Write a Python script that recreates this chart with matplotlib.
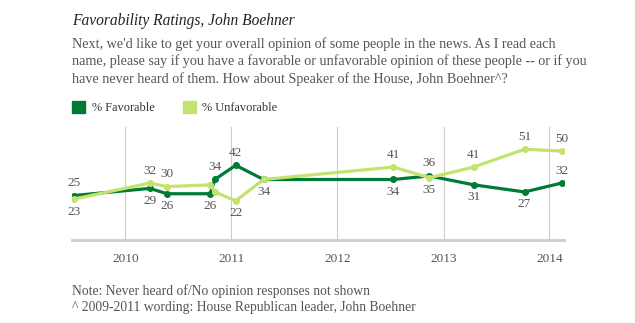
import matplotlib
matplotlib.use("Agg")
import matplotlib.pyplot as plt
import pandas as pd

# survey dates and results (%)
dates = ["2009-07-08", "2010-03-26", "2010-05-24", "2010-10-20", "2010-11-05",
         "2011-01-16", "2011-04-22", "2012-07-12", "2012-11-13", "2013-04-15",
         "2013-10-07", "2014-02-12"]
favorable = [25, 29, 26, 26, 34, 42, 34, 34, 36, 31, 27, 32]
unfavorable = [23, 32, 30, 31, 27, 22, 34, 41, 35, 41, 51, 50]
years = ["2010", "2011", "2012", "2013", "2014"]

# where each value label goes: 1 above, -1 below, 0 none
fav_pos = [1, -1, -1, -1, 1, 1, -1, -1, 1, -1, -1, 1]
unf_pos = [-1, 1, 1, 0, 0, -1, 0, 1, -1, 1, 1, 1]

DARK = "#007a37"
LIGHT = "#c4e36e"
GREY = "#555555"
SERIF = "Liberation Serif"

x = pd.to_datetime(dates)

fig = plt.figure(figsize=(6.35, 3.23), dpi=100)
ax = fig.add_axes([72 / 635, 1 - 240 / 323, 492 / 635, 113 / 323])

ax.plot(x, favorable, color=DARK, lw=2.3, marker="o", ms=4, zorder=3)
ax.plot(x, unfavorable, color=LIGHT, lw=2.3, marker="o", ms=4, zorder=4)

for series, pos in [(favorable, fav_pos), (unfavorable, unf_pos)]:
    for xi, v, p in zip(x, series, pos):
        if p:
            ax.annotate(str(v), (xi, v), xytext=(0, 9 * p), textcoords="offset points",
                        ha="center", va="center", fontsize=9.5, color=GREY, family=SERIF)

ax.set_xlim(pd.Timestamp("2009-07-01"), pd.Timestamp("2014-02-20"))
ax.set_ylim(0, 63.5)
ax.set_xticks(pd.to_datetime([y + "-01-01" for y in years]))
ax.set_xticklabels(years, family=SERIF, fontsize=9.5, color=GREY)
ax.set_yticks([])
ax.tick_params(axis="x", length=0, pad=9)
ax.grid(axis="x", color="#cccccc", lw=0.8)
for s in ["top", "right", "left"]:
    ax.spines[s].set_visible(False)
ax.spines["bottom"].set_color("#cccccc")
ax.spines["bottom"].set_linewidth(2)


def put(px, py, s, **kw):
    # place text by pixel position of its baseline
    fig.text(px / 635, 1 - py / 323, s, family=SERIF, va="baseline", **kw)


put(72, 25, "Favorability Ratings, John Boehner", style="italic", fontsize=11.2,
    color="#222222")
question = ["Next, we'd like to get your overall opinion of some people in the news. As I read each",
            "name, please say if you have a favorable or unfavorable opinion of these people -- or if you",
            "have never heard of them. How about Speaker of the House, John Boehner^?"]
for i, line in enumerate(question):
    put(72, 48 + 17.5 * i, line, fontsize=10.2, color=GREY)

fig.patches.append(plt.Rectangle((72 / 635, 1 - 113 / 323), 13 / 635, 12 / 323,
                                 transform=fig.transFigure, color=DARK))
put(92, 111, "% Favorable", fontsize=8.9, color="#333333")
fig.patches.append(plt.Rectangle((183 / 635, 1 - 113 / 323), 13 / 635, 12 / 323,
                                 transform=fig.transFigure, color=LIGHT))
put(202, 111, "% Unfavorable", fontsize=8.9, color="#333333")

put(72, 295, "Note: Never heard of/No opinion responses not shown", fontsize=9.8, color=GREY)
put(72, 311, "^ 2009-2011 wording: House Republican leader, John Boehner", fontsize=9.8,
    color=GREY)

fig.savefig("out.png", dpi=100)
